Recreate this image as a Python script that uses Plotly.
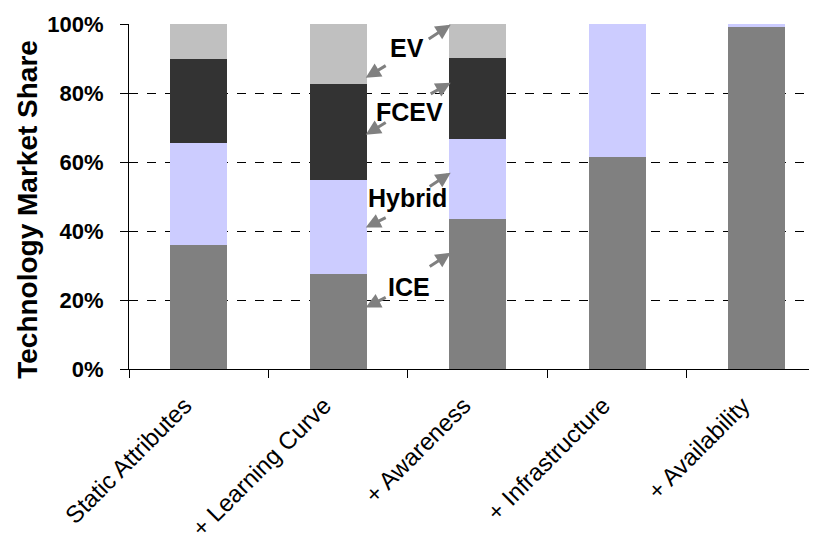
import plotly.graph_objects as go

categories = ["Static Attributes", "+ Learning Curve", "+ Awareness", "+ Infrastructure", "+ Availability"]
ice = [35.8, 27.4, 43.6, 61.4, 99.0]
hybrid = [29.7, 27.5, 23.1, 38.6, 1.0]
fcev = [24.4, 27.7, 23.5, 0.0, 0.0]
ev = [10.1, 17.4, 9.8, 0.0, 0.0]
series_names = ["ICE", "Hybrid", "FCEV", "EV"]
colors = ["#808080", "#CCCCFF", "#333333", "#C0C0C0"]
y_ticks = [0, 20, 40, 60, 80, 100]
y_tick_text = ["0%", "20%", "40%", "60%", "80%", "100%"]
y_title = "Technology Market Share"

FONT = "Arial, Liberation Sans, sans-serif"

fig = go.Figure()
for name, vals, col in zip(series_names, [ice, hybrid, fcev, ev], colors):
    fig.add_trace(go.Bar(x=categories, y=vals, name=name, marker=dict(color=col, line=dict(width=0)),
                         showlegend=False))

# labels in the gap between bar 2 and bar 3
labels = [("EV", 1.49, 93.1), ("FCEV", 1.51, 74.5), ("Hybrid", 1.50, 49.7), ("ICE", 1.51, 23.8)]
for t, x, y in labels:
    fig.add_annotation(x=x, y=y, xref="x", yref="y", text="<b>%s</b>" % t, showarrow=False,
                       font=dict(family=FONT, size=25, color="black"))

# arrows: (head_x, head_y, tail_x, tail_y)
arrows = [
    (1.197, 84.4, 1.351, 88.2), (1.806, 99.8, 1.638, 95.4),
    (1.197, 67.9, 1.351, 71.7), (1.806, 83.0, 1.652, 79.5),
    (1.197, 41.0, 1.351, 44.1), (1.806, 56.9, 1.645, 52.6),
    (1.197, 17.8, 1.351, 21.0), (1.806, 33.7, 1.645, 29.4),
]
for hx, hy, tx, ty in arrows:
    fig.add_annotation(x=hx, y=hy, ax=tx, ay=ty, xref="x", yref="y", axref="x", ayref="y",
                       text="", showarrow=True, arrowhead=2, arrowsize=1.0, arrowwidth=3,
                       arrowcolor="#808080")

# y-axis title as rotated text
fig.add_annotation(xref="paper", yref="paper", x=-0.148, y=0.462, text="<b>%s</b>" % y_title,
                   textangle=-90, showarrow=False, xanchor="center", yanchor="middle",
                   font=dict(family=FONT, size=28, color="black"))

fig.update_layout(
    barmode="stack",
    bargap=0.59,
    width=809, height=540,
    margin=dict(l=121, r=0, t=16, b=179),
    paper_bgcolor="white", plot_bgcolor="white",
    font=dict(family=FONT, color="black"),
)
fig.update_xaxes(
    type="category", range=[-0.5, 4.432], automargin=False,
    tickson="boundaries", ticks="outside", ticklen=8, tickcolor="black",
    showline=True, linecolor="black", linewidth=1,
    tickangle=-45, tickfont=dict(family=FONT, size=24, color="black"),
    ticklabelstandoff=12, ticklabelshift=-14,
    showgrid=False,
)
fig.update_yaxes(
    range=[0, 100], tickvals=y_ticks, ticktext=["<b>%s</b>" % s for s in y_tick_text],
    automargin=False,
    ticks="outside", ticklen=8, tickcolor="black",
    showline=True, linecolor="black", linewidth=1,
    showgrid=True, gridcolor="black", griddash="dash", gridwidth=1,
    zeroline=False,
    tickfont=dict(family=FONT, size=22, color="black"),
    ticklabelstandoff=12,
)
fig.write_html("out.html")
